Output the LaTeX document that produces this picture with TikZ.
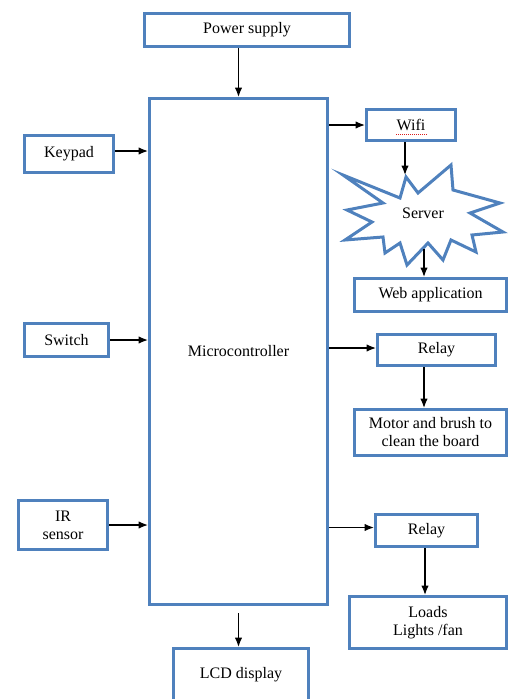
\documentclass[tikz,border=0pt]{standalone}
\usepackage{fontspec}
\setmainfont{Liberation Serif}
\usetikzlibrary{arrows.meta,calc}
\definecolor{boxblue}{RGB}{79,129,189}
\definecolor{spellred}{RGB}{220,30,30}
\tikzset{
  blk/.style={draw=boxblue, line width=3pt, fill=white, align=center,
    inner sep=2pt, font=\fontsize{16}{18}\selectfont},
  conn/.style={line width=1.3pt, -{Latex[length=9.5pt,width=7.5pt]}},
  burst/.style={draw=boxblue, line width=3pt, fill=white, line join=miter},
}
\begin{document}
\begin{tikzpicture}[x=1pt,y=-1pt]
\useasboundingbox (0,0) rectangle (509,699);

% main blocks
\node[blk, minimum width=205pt, minimum height=33pt] (power) at (247,30) {Power supply};
\node[blk, minimum width=178pt, minimum height=506pt] (mc) at (238.5,351.5) {Microcontroller};
\node[blk, minimum width=89pt, minimum height=37pt] (keypad) at (69,154) {Keypad};
\node[blk, minimum width=84pt, minimum height=33pt] (switch) at (66.5,340) {Switch};
\node[blk, minimum width=89pt, minimum height=49pt] (ir) at (63,525) {IR\\sensor};
\node[blk, minimum width=89pt, minimum height=31pt] (wifi) at (411,125) {Wifi};
\node[blk, minimum width=152pt, minimum height=33pt] (web) at (430.5,295) {Web application};
\node[blk, minimum width=118pt, minimum height=31pt] (relaya) at (436.5,350) {Relay};
\node[blk, minimum width=152pt, minimum height=46pt] (motor) at (430.5,432.5) {Motor and brush to\\clean the board};
\node[blk, minimum width=102pt, minimum height=32pt] (relayb) at (426.5,530.5) {Relay};
\node[blk, minimum width=157pt, minimum height=52pt] (loads) at (428,622.5) {Loads\\Lights /fan};
\node[blk, minimum width=135pt, minimum height=53pt] (lcd) at (241,675) {LCD display};

% spell-check mark under "Wifi"
\draw[spellred, line width=0.8pt, dash pattern=on 1pt off 1pt] (396,134) -- (427,134);

% server burst
\draw[burst]
  (343,175) -- (400,198) -- (406,177) -- (418,193) -- (451,165) -- (453,190)
  -- (500,203) -- (470,213) -- (503,232) -- (472,235) -- (476,252) -- (451,240)
  -- (443,260) -- (428,243) -- (407,265) -- (400,243) -- (385,253) -- (383,237)
  -- (345,240) -- (372,222) -- (347,210) -- (383,203) -- cycle;
\node[font=\fontsize{16}{18}\selectfont] (server) at (423,213) {Server};
\coordinate (srvtop) at (405,175);
\coordinate (srvbot) at (424,249);

% connectors
\draw[conn] (mc.north |- power.south) -- (mc.north);
\draw[conn] ([yshift=3pt]keypad.east) -- ([yshift=3pt]keypad.east -| mc.west);
\draw[conn] (switch.east) -- (switch.east -| mc.west);
\draw[conn] (ir.east) -- (ir.east -| mc.west);
\draw[conn] (wifi.west -| mc.east) -- (wifi.west);
\draw[conn] (wifi.south -| srvtop) -- (srvtop);
\draw[conn] (srvbot) -- (srvbot |- web.north);
\draw[conn] ([yshift=2pt]relaya.west -| mc.east) -- ([yshift=2pt]relaya.west);
\draw[conn] ([xshift=-12.5pt]relaya.south) -- ([xshift=-12.5pt]relaya.south |- motor.north);
\draw[conn] ([yshift=3pt]relayb.west -| mc.east) -- ([yshift=3pt]relayb.west);
\draw[conn] ([xshift=-1.5pt]relayb.south) -- ([xshift=-1.5pt]relayb.south |- loads.north);
\draw[conn] ([yshift=-7pt]mc.south) -- (mc.south |- lcd.north);
\end{tikzpicture}
\end{document}
